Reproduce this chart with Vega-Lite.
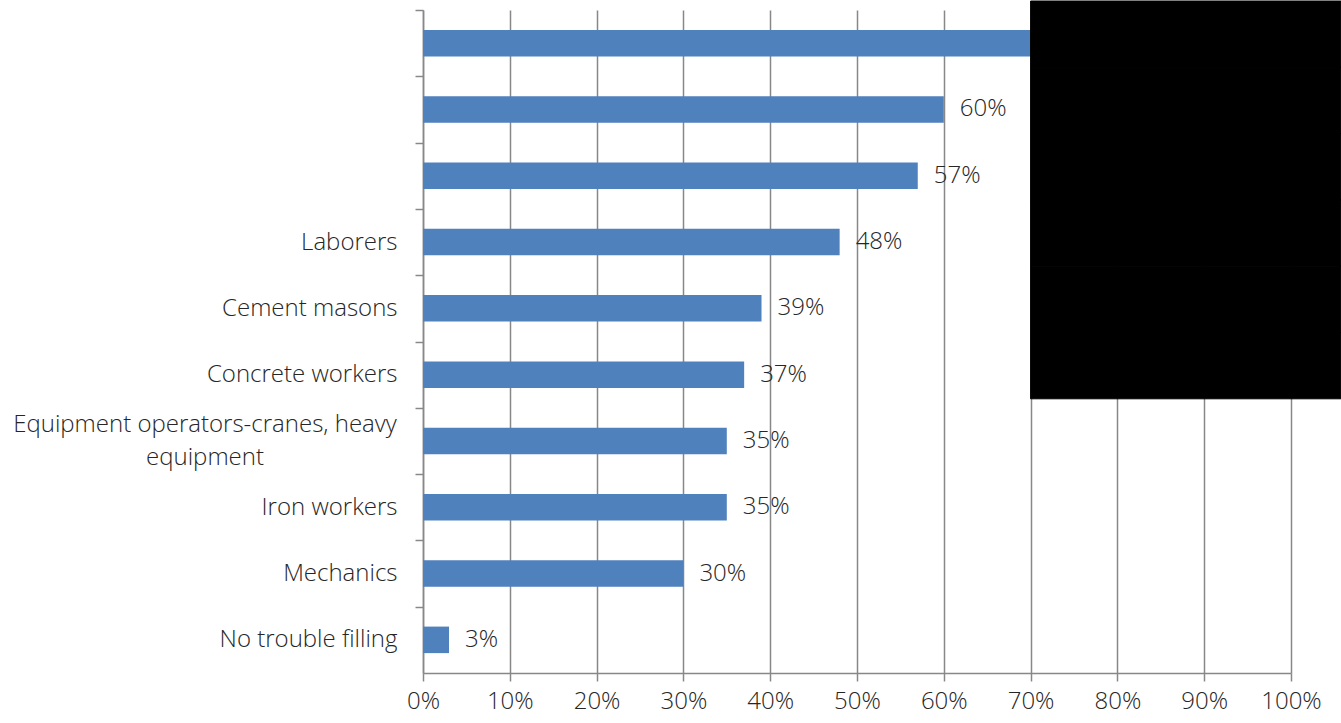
{
  "$schema": "https://vega.github.io/schema/vega-lite/v6.json",
  "width": 868,
  "height": 663,
  "autosize": "none",
  "padding": {"left": 423, "top": 10, "right": 50, "bottom": 50},
  "background": "white",
  "config": {
    "view": {"stroke": null},
    "font": "Open Sans",
    "axis": {"labelFont": "Open Sans", "labelFontWeight": 300, "labelColor": "#262626", "labelFontSize": 24}
  },
  "data": {
    "values": [
      {"trade": "[hidden 1]", "share": 0.72},
      {"trade": "[hidden 2]", "share": 0.60},
      {"trade": "[hidden 3]", "share": 0.57},
      {"trade": "Laborers", "share": 0.48},
      {"trade": "Cement masons", "share": 0.39},
      {"trade": "Concrete workers", "share": 0.37},
      {"trade": "Equipment operators-cranes, heavy equipment", "share": 0.35},
      {"trade": "Iron workers", "share": 0.35},
      {"trade": "Mechanics", "share": 0.30},
      {"trade": "No trouble filling", "share": 0.03}
    ]
  },
  "encoding": {
    "y": {
      "field": "trade", "type": "nominal", "sort": null, "title": null,
      "scale": {"paddingInner": 0.6, "paddingOuter": 0.3},
      "axis": {
        "tickOffset": -33.15,
        "domainColor": "#888888", "domainWidth": 1.5,
        "tickColor": "#888888", "tickWidth": 1.5, "tickSize": 8,
        "labelLimit": 0, "labelLineHeight": 33,
        "labelPadding": {"condition": {"test": "indexof(datum.value, 'Equipment') == 0", "value": 210.5}, "value": 18},
        "labelAlign": {"condition": {"test": "indexof(datum.value, 'Equipment') == 0", "value": "center"}, "value": "right"},
        "labelOffset": {"condition": {"test": "indexof(datum.value, 'Equipment') == 0", "value": 17}, "value": 33.15},
        "labelExpr": "datum.value == 'Equipment operators-cranes, heavy equipment' ? ['Equipment operators-cranes, heavy', 'equipment'] : (indexof(datum.value, '[hidden') == 0 ? '' : datum.value)"
      }
    }
  },
  "layer": [
    {
      "mark": {"type": "bar", "color": "#4F81BD"},
      "encoding": {
        "x": {
          "field": "share", "type": "quantitative", "title": null,
          "scale": {"domain": [0, 1], "nice": false},
          "axis": {
            "values": [0, 0.1, 0.2, 0.3, 0.4, 0.5, 0.6, 0.7, 0.8, 0.9, 1.0],
            "format": ".0%", "labelFlush": false,
            "grid": true, "gridColor": "#888888", "gridWidth": 1.5,
            "domainColor": "#888888", "domainWidth": 1.5,
            "tickColor": "#888888", "tickWidth": 1.5, "tickSize": 8,
            "labelPadding": 8
          }
        }
      }
    },
    {
      "mark": {"type": "text", "align": "left", "baseline": "middle", "dx": 16, "fontSize": 24, "fontWeight": 300, "font": "Open Sans", "color": "#262626"},
      "encoding": {
        "x": {"field": "share", "type": "quantitative"},
        "text": {"field": "share", "type": "quantitative", "format": ".0%"}
      }
    },
    {
      "transform": [{"filter": "indexof(['[hidden 1]','[hidden 2]','[hidden 3]','Laborers','Cement masons','Concrete workers'], datum.trade) >= 0"}],
      "mark": {"type": "bar", "color": "black", "stroke": "black", "strokeWidth": 1, "height": {"band": 2.5}, "yOffset": -9, "clip": false},
      "encoding": {
        "x": {"datum": 0.70, "type": "quantitative"},
        "x2": {"datum": 1.0575}
      }
    }
  ]
}
